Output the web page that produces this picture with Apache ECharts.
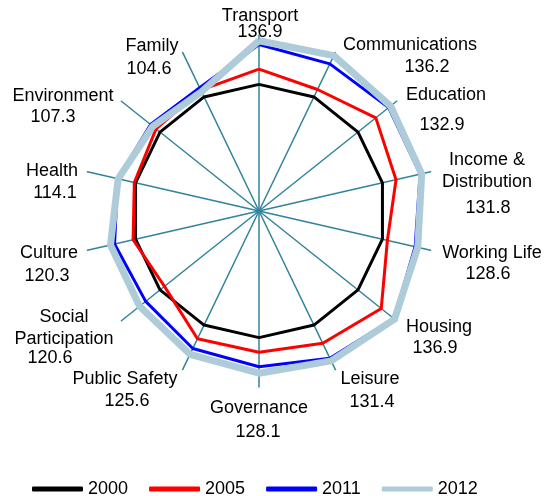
<!DOCTYPE html>
<html>
<head>
<meta charset="utf-8">
<script src="https://cdn.jsdelivr.net/npm/echarts@6/dist/echarts.min.js"></script>
<style>
  html, body { margin: 0; padding: 0; background: #fff; }
  #main { width: 546px; height: 496px; }
</style>
</head>
<body>
<div id="main"></div>
<script>
// indicators, clockwise from the top
const categories = ['Transport', 'Communications', 'Education', 'Income &\nDistribution', 'Working Life',
  'Housing', 'Leisure', 'Governance', 'Public Safety', 'Social\nParticipation', 'Culture', 'Health',
  'Environment', 'Family']
const years = ['2000', '2005', '2011', '2012']
const values2000 = [100, 100, 100, 100, 100, 100, 100, 100, 100, 100, 100, 100, 100, 100]
const values2005 = [112, 106.5, 118, 111, 104, 123.5, 116, 111.5, 112, 95.5, 102, 101, 104, 106]
const values2011 = [131.5, 129, 131, 130.5, 126.5, 136.3, 129, 123, 120.5, 114.5, 117, 114.5, 109.5, 108]
const values2012 = [134.5, 136.2, 132.9, 131.8, 128.6, 136.9, 131.4, 128.1, 125.6, 120.6, 120.3, 114.1, 107.3, 104.6]
// 2012 index printed next to each indicator name
const labels2012 = ['136.9', '136.2', '132.9', '131.8', '128.6', '136.9', '131.4', '128.1', '125.6', '120.6',
  '120.3', '114.1', '107.3', '104.6']
const axisMax = 139

// label placement (centre of each text line, px)
const namePos = [[260, 16], [410, 45], [446, 95], [487, 171], [492, 253], [439, 327], [370, 379],
  [259, 408], [125, 379], [64, 328], [49, 253], [52, 171], [63, 96], [152, 46]]
const valuePos = [[260, 32], [427, 67], [442, 125], [488, 208], [488, 274], [435, 348], [372, 402],
  [258, 432], [127, 401], [50, 358], [47, 276], [55, 193], [53, 117], [149, 69]]

const colors = ['#000000', '#ff0000', '#0000ff', '#adcbd8']
const widths = [3, 3, 3, 7]
const fontFamily = '"Liberation Sans", Arial, sans-serif'

// echarts lays radar indicators out counter-clockwise, so walk the list backwards
const order = [0]
for (let i = categories.length - 1; i > 0; i--) order.push(i)
const pick = arr => order.map(i => arr[i])

const chart = echarts.init(document.getElementById('main'))

const graphics = []
categories.forEach((name, i) => {
  graphics.push({
    type: 'text',
    x: namePos[i][0],
    y: namePos[i][1],
    style: {
      text: name,
      align: 'center',
      verticalAlign: 'middle',
      fontSize: 18,
      fontFamily: fontFamily,
      lineHeight: 22,
      fill: '#000'
    }
  })
  graphics.push({
    type: 'text',
    x: valuePos[i][0],
    y: valuePos[i][1],
    style: {
      text: labels2012[i],
      align: 'center',
      verticalAlign: 'middle',
      fontSize: 18,
      fontFamily: fontFamily,
      fill: '#000'
    }
  })
})

const seriesValues = [values2000, values2005, values2011, values2012]

const option = {
  animation: false,
  backgroundColor: '#fff',
  color: colors,
  legend: {
    data: years,
    left: 27,
    top: 475,
    icon: 'roundRect',
    itemWidth: 51,
    itemHeight: 5,
    itemGap: 21,
    itemStyle: { borderWidth: 0 },
    lineStyle: { width: 0 },
    textStyle: { fontSize: 18, color: '#000', fontFamily: fontFamily }
  },
  radar: {
    center: [259, 211],
    radius: 176,
    startAngle: 90,
    indicator: pick(categories).map(n => ({ name: n, min: 0, max: axisMax })),
    axisName: { show: false },
    splitLine: { show: false },
    splitArea: { show: false },
    axisTick: { show: false },
    axisLabel: { show: false },
    axisLine: { lineStyle: { color: '#31849b', width: 1.5 } }
  },
  graphic: graphics,
  series: [
    {
      type: 'radar',
      symbol: 'none',
      data: years.map((y, k) => ({
        name: y,
        value: pick(seriesValues[k]),
        itemStyle: { color: colors[k] },
        lineStyle: { color: colors[k], width: widths[k] }
      }))
    }
  ]
}

chart.setOption(option)
</script>
</body>
</html>
